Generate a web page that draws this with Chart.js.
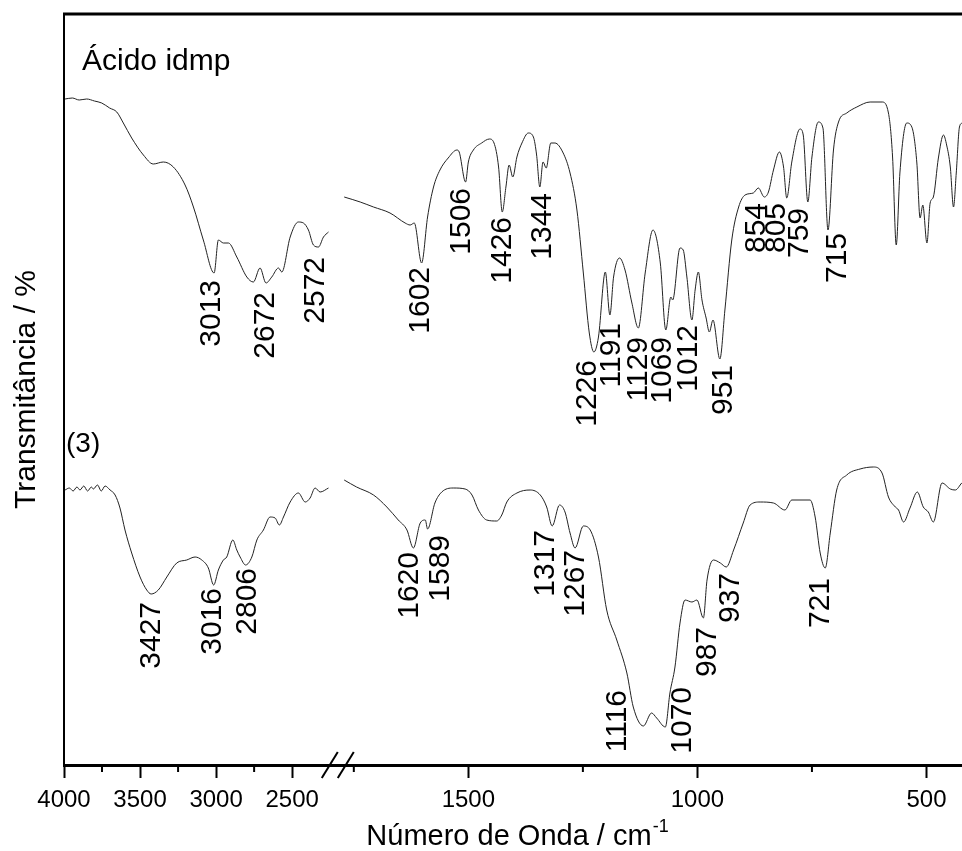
<!DOCTYPE html>
<html>
<head>
<meta charset="utf-8">
<title>IR - Ácido idmp / (3)</title>
<script src="https://cdn.jsdelivr.net/npm/chart.js@4.4.1/dist/chart.umd.min.js"></script>
<style>
  html, body { margin: 0; padding: 0; background: #fff; overflow: hidden; }
  #wrap { width: 975px; height: 851px; }
</style>
</head>
<body>
<div id="wrap"><canvas id="ir" width="975" height="851"></canvas></div>
<script>
// broken wavenumber axis: 4000-2200 squeezed, then 1785 down to ~400
const breakHi = 2200;
const breakLo = 1785;
const squeeze = 0.332;

const majorTicks = [4000, 3500, 3000, 2500, 1500, 1000, 500];
const minorTicks = [3750, 3250, 2750, 1750, 1250, 750];

// [wavenumber, transmittance (arb.)]
const acidoLeft = [
  [3993,666],[3945,667],[3900,665],[3851,666],[3800,664],[3752,662],[3700,657],[3653,653],
  [3610,642],[3555,627],[3478,610],[3413,601],[3347,603],[3281,598],[3204,580],[3149,558],
  [3084,525],[3013,492],[2985,525],[2952,522],[2919,522],[2864,508],[2798,488],[2755,483],
  [2711,497],[2672,482],[2634,488],[2590,497],[2568,493],[2513,528],[2459,543],[2426,542],
  [2393,535],[2360,520],[2327,518],[2294,528],[2261,533]
];
const acidoRight = [
  [1771,568],[1736,563],[1707,558],[1671,552],[1638,542],[1627,540],[1618,542],[1602,502],
  [1589,548],[1576,578],[1562,595],[1544,607],[1525,615],[1520,613],[1506,583],[1500,603],
  [1489,615],[1471,622],[1454,626],[1444,622],[1434,598],[1426,553],[1418,578],[1411,600],
  [1403,588],[1394,608],[1383,622],[1369,632],[1358,628],[1351,610],[1344,578],[1337,603],
  [1330,597],[1320,622],[1311,622],[1293,612],[1278,592],[1263,555],[1249,492],[1236,432],
  [1226,413],[1216,428],[1201,493],[1191,450],[1183,488],[1170,507],[1158,495],[1143,462],
  [1129,437],[1114,492],[1097,535],[1081,502],[1069,435],[1058,468],[1054,465],[1038,517],
  [1031,515],[1023,488],[1012,445],[1005,475],[998,493],[990,465],[981,447],[974,433],
  [966,445],[951,406],[940,455],[925,525],[910,558],[896,570],[878,572],[867,577],
  [854,568],[845,573],[834,595],[821,613],[812,598],[805,567],[794,603],[776,636],
  [769,630],[759,563],[750,608],[736,643],[726,637],[715,535],[703,615],[692,643],
  [674,652],[652,658],[623,663],[597,663],[583,652],[574,608],[566,520],[558,592],
  [543,642],[532,638],[521,602],[514,547],[508,560],[499,522],[492,562],[485,568],
  [474,607],[463,630],[456,620],[448,598],[441,558],[435,592],[428,638],[422,642],[415,645]
];
const compLeft = [
  [3993,275],[3965,277],[3940,274],[3915,278],[3895,275],[3870,279],[3845,274],[3820,278],
  [3807,276],[3780,280],[3755,274],[3730,279],[3697,275],[3664,270],[3632,257],[3599,235],
  [3555,212],[3500,188],[3456,175],[3427,171],[3380,175],[3324,188],[3259,202],[3193,205],
  [3138,208],[3094,205],[3051,197],[3016,180],[2985,195],[2952,205],[2930,208],[2890,225],
  [2864,215],[2842,208],[2806,200],[2765,208],[2732,225],[2689,235],[2645,248],[2612,247],
  [2584,240],[2557,248],[2513,263],[2459,272],[2414,263],[2382,267],[2349,277],[2316,273],
  [2261,277]
];
const compRight = [
  [1771,285],[1744,278],[1707,270],[1678,258],[1653,245],[1634,235],[1620,217],[1605,242],
  [1594,245],[1589,236],[1573,262],[1558,273],[1533,277],[1507,276],[1492,270],[1478,255],
  [1460,245],[1438,244],[1427,250],[1416,263],[1394,272],[1365,275],[1343,270],[1329,258],
  [1317,239],[1301,260],[1289,253],[1278,232],[1267,217],[1249,239],[1234,235],[1216,208],
  [1198,155],[1176,125],[1154,92],[1140,58],[1118,39],[1100,52],[1089,47],[1070,38],
  [1060,72],[1049,98],[1038,142],[1027,165],[1012,163],[1001,165],[987,147],[979,185],
  [965,205],[950,202],[937,198],[921,215],[900,242],[885,260],[863,263],[834,262],
  [809,255],[794,265],[754,265],[743,248],[732,212],[721,197],[710,232],[696,275],
  [674,290],[645,296],[616,298],[597,292],[583,268],[568,258],[561,255],[550,243],
  [536,257],[520,273],[507,258],[496,253],[485,243],[466,282],[448,276],[437,275],
  [423,282],[416,285]
];

// peak labels: text, where it sits on the axis, and the value at its top end
const acidoLabels = ['3013','2672','2572','1602','1506','1426','1344','1226','1191','1129','1069','1012','951','854','805','759','715'];
const acidoLabelAt = [3030,2671,2342,1605,1514,1424,1337,1239,1186,1129,1075,1018,942,870,826,776,693];
const acidoLabelTop = [485,473,508,498,577,548,572,405,442,428,428,440,400,562,562,557,532];

const compLabels = ['3427','3016','2806','1620','1589','1317','1267','1116','1070','987','937','721'];
const compLabelAt = [3423,3020,2793,1629,1560,1330,1265,1173,1031,977,927,730];
const compLabelTop = [163,177,197,213,230,235,215,75,78,138,192,187];

const panelNames = ['Ácido idmp', '(3)'];

const FONT = "'Liberation Sans', Arial, sans-serif";

const toAxis = (w) => (w <= breakLo ? w : breakLo + (w - breakHi) * squeeze);
const line = (arr) => ({
  data: arr.map(([w, t]) => ({ x: toAxis(w), y: t })),
  borderColor: '#222',
  borderWidth: 1,
  pointRadius: 0,
  cubicInterpolationMode: 'monotone',
  fill: false,
});

const extras = {
  id: 'extras',
  afterDraw(chart) {
    const { ctx, chartArea: a, scales: { x, y } } = chart;
    ctx.save();
    ctx.strokeStyle = '#000';
    ctx.fillStyle = '#000';

    // top and right of the frame
    ctx.lineWidth = 3;
    ctx.beginPath();
    ctx.moveTo(a.left - 1, a.top);
    ctx.lineTo(a.right, a.top);
    ctx.lineTo(a.right, a.bottom);
    ctx.stroke();

    // minor ticks
    ctx.lineWidth = 2;
    minorTicks.forEach((w) => {
      const px = x.getPixelForValue(toAxis(w));
      ctx.beginPath();
      ctx.moveTo(px, a.bottom);
      ctx.lineTo(px, a.bottom + 7);
      ctx.stroke();
    });

    // break marks //
    const bx = x.getPixelForValue(toAxis(breakHi));
    [-8, 8].forEach((d) => {
      ctx.beginPath();
      ctx.moveTo(bx + d - 8, a.bottom + 13);
      ctx.lineTo(bx + d + 8, a.bottom - 13);
      ctx.stroke();
    });

    // peak labels
    ctx.font = `30px ${FONT}`;
    ctx.textAlign = 'right';
    ctx.textBaseline = 'middle';
    const drawLabels = (texts, at, top) => {
      texts.forEach((t, i) => {
        ctx.save();
        ctx.translate(x.getPixelForValue(toAxis(at[i])), y.getPixelForValue(top[i]));
        ctx.rotate(-Math.PI / 2);
        ctx.fillText(t, 0, 0);
        ctx.restore();
      });
    };
    drawLabels(acidoLabels, acidoLabelAt, acidoLabelTop);
    drawLabels(compLabels, compLabelAt, compLabelTop);

    // panel names
    ctx.textAlign = 'left';
    ctx.textBaseline = 'alphabetic';
    ctx.font = `30px ${FONT}`;
    ctx.fillText(panelNames[0], a.left + 18, a.top + 56);
    ctx.font = `28px ${FONT}`;
    ctx.fillText(panelNames[1], a.left + 2, a.top + 438);

    // x title with superscript
    const main = 'Número de Onda / cm';
    const sup = '-1';
    ctx.font = `29px ${FONT}`;
    const mw = ctx.measureText(main).width;
    ctx.font = `18px ${FONT}`;
    const sw = ctx.measureText(sup).width;
    const sx = (a.left + a.right) / 2 - (mw + sw) / 2;
    ctx.font = `29px ${FONT}`;
    ctx.fillText(main, sx, a.bottom + 80);
    ctx.font = `18px ${FONT}`;
    ctx.fillText(sup, sx + mw + 1, a.bottom + 67);

    ctx.restore();
  },
};

new Chart(document.getElementById('ir'), {
  type: 'line',
  data: {
    datasets: [line(acidoLeft), line(acidoRight), line(compLeft), line(compRight)],
  },
  options: {
    responsive: false,
    animation: false,
    layout: { padding: { top: 14, right: 5, left: 0, bottom: 0 } },
    plugins: { legend: { display: false }, tooltip: { enabled: false } },
    scales: {
      x: {
        type: 'linear',
        reverse: true,
        min: 405,
        max: toAxis(4000),
        afterFit: (s) => { s.height = 86; },
        afterBuildTicks: (s) => { s.ticks = majorTicks.map((w) => ({ value: toAxis(w) })); },
        ticks: {
          callback: (v, i) => String(majorTicks[i]),
          color: '#000',
          font: { size: 24, family: FONT },
          padding: 8,
          maxRotation: 0,
          autoSkip: false,
        },
        grid: { drawOnChartArea: false, tickLength: 13, tickWidth: 2, tickColor: '#000' },
        border: { color: '#000', width: 3 },
      },
      y: {
        min: 0,
        max: 751,
        afterFit: (s) => { s.width = 64; },
        ticks: { display: false },
        grid: { display: false },
        border: { color: '#000', width: 2 },
        title: {
          display: true,
          text: 'Transmitância / %',
          color: '#000',
          font: { size: 30, family: FONT },
          padding: { top: 9, bottom: 0 },
        },
      },
    },
  },
  plugins: [extras],
});
</script>
</body>
</html>
